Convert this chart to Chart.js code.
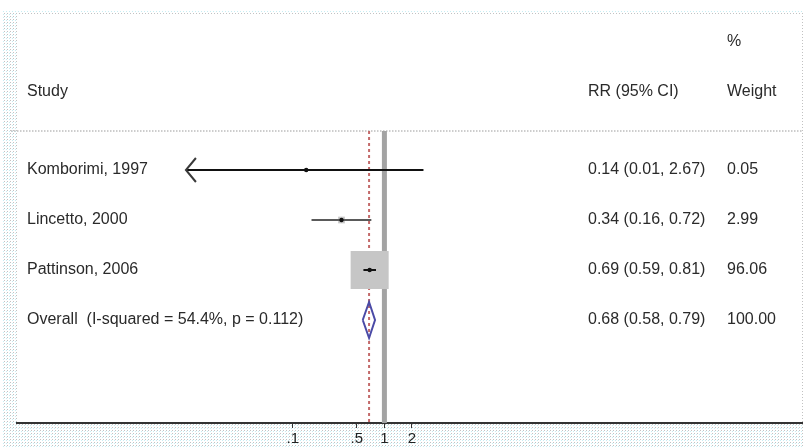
<!DOCTYPE html>
<html>
<head>
<meta charset="utf-8">
<script src="https://cdn.jsdelivr.net/npm/chart.js@4.4.1/dist/chart.umd.min.js"></script>
<style>
  html, body { margin: 0; padding: 0; background: #fff; }
</style>
</head>
<body>
<canvas id="forest" width="808" height="447"></canvas>
<script>
// Study rows of the forest plot
const studies = ['Komborimi, 1997', 'Lincetto, 2000', 'Pattinson, 2006'];
const rr = [0.14, 0.34, 0.69];
const ciLow = [0.0068, 0.16, 0.59];
const ciHigh = [2.67, 0.72, 0.81];
const weights = [0.05, 2.99, 96.06];

// Pooled estimate
const overallLabel = 'Overall  (I-squared = 54.4%, p = 0.112)';
const overallRR = 0.68;
const overallLow = 0.58;
const overallHigh = 0.79;
const overallWeight = 100.00;

// x axis ticks
const xTicks = [0.1, 0.5, 1, 2];
const xTickLabels = ['.1', '.5', '1', '2'];

const rows = studies.map((s, i) => i + 1);
const overallRow = studies.length + 1;

const FONT = '16px "Liberation Sans", Arial, sans-serif';
const TEXT = '#2a2a2a';

function fmt(v) { return v.toFixed(2); }

// dotted grey/cyan look of the outer graph region
function makePattern(ctx) {
  const c = document.createElement('canvas');
  c.width = 3; c.height = 3;
  const p = c.getContext('2d');
  p.fillStyle = '#fff';
  p.fillRect(0, 0, 3, 3);
  p.fillStyle = '#c2c2c2';
  p.fillRect(1, 1, 1, 1);
  p.fillStyle = '#c6eef4';
  p.fillRect(0, 2, 1, 1);
  return ctx.createPattern(c, 'repeat');
}

const backgroundPlugin = {
  id: 'background',
  beforeDraw(chart) {
    const { ctx, chartArea } = chart;
    ctx.save();
    ctx.fillStyle = '#fff';
    ctx.fillRect(0, 0, chart.width, chart.height);
    ctx.fillStyle = makePattern(ctx);
    ctx.fillRect(3, 11, 801, chart.height - 11);
    ctx.fillStyle = '#fff';
    ctx.fillRect(chartArea.left, chartArea.top, chartArea.right - chartArea.left, chartArea.bottom - chartArea.top);
    ctx.restore();
  }
};

// separator, null line and dashed pooled line
const refLinesPlugin = {
  id: 'refLines',
  beforeDatasetsDraw(chart) {
    const { ctx, chartArea, scales: { x, y } } = chart;
    const sepY = y.getPixelForValue(0.22);
    ctx.save();
    ctx.strokeStyle = '#bdbdbd';
    ctx.lineWidth = 1.5;
    ctx.setLineDash([1.5, 1.5]);
    ctx.beginPath();
    ctx.moveTo(chartArea.left - 6, sepY);
    ctx.lineTo(chartArea.right, sepY);
    ctx.stroke();

    const x1 = x.getPixelForValue(1);
    ctx.setLineDash([]);
    ctx.strokeStyle = '#a3a3a3';
    ctx.lineWidth = 5;
    ctx.beginPath();
    ctx.moveTo(x1, sepY);
    ctx.lineTo(x1, chartArea.bottom);
    ctx.stroke();

    const xo = x.getPixelForValue(overallRR);
    ctx.strokeStyle = '#c46a6a';
    ctx.lineWidth = 2;
    ctx.setLineDash([3, 3]);
    ctx.beginPath();
    ctx.moveTo(xo, sepY);
    ctx.lineTo(xo, chartArea.bottom);
    ctx.stroke();
    ctx.restore();
  }
};

// arrow head where a CI runs past the lowest tick
const arrowPlugin = {
  id: 'arrows',
  afterDatasetsDraw(chart) {
    const { ctx, scales: { x, y } } = chart;
    ctx.save();
    ctx.strokeStyle = '#3a3a3a';
    ctx.lineWidth = 2;
    ciLow.forEach((lo, i) => {
      if (lo >= xTicks[0]) return;
      const tx = x.getPixelForValue(lo);
      const ty = y.getPixelForValue(rows[i]);
      ctx.beginPath();
      ctx.moveTo(tx + 10, ty - 12);
      ctx.lineTo(tx, ty);
      ctx.lineTo(tx + 10, ty + 12);
      ctx.stroke();
    });
    ctx.restore();
  }
};

// the text columns
const textPlugin = {
  id: 'columns',
  afterDraw(chart) {
    const { ctx, scales: { y } } = chart;
    const colStudy = 27, colRR = 588, colW = 727;
    ctx.save();
    ctx.font = FONT;
    ctx.fillStyle = TEXT;
    ctx.textBaseline = 'middle';
    ctx.textAlign = 'left';
    ctx.fillText('%', colW, y.getPixelForValue(-1.56));
    const hy = y.getPixelForValue(-0.56);
    ctx.fillText('Study', colStudy, hy);
    ctx.fillText('RR (95% CI)', colRR, hy);
    ctx.fillText('Weight', colW, hy);
    studies.forEach((s, i) => {
      const ry = y.getPixelForValue(rows[i]);
      ctx.fillText(s, colStudy, ry);
      ctx.fillText(fmt(rr[i]) + ' (' + fmt(ciLow[i]) + ', ' + fmt(ciHigh[i]) + ')', colRR, ry);
      ctx.fillText(fmt(weights[i]), colW, ry);
    });
    const oy = y.getPixelForValue(overallRow);
    ctx.fillText(overallLabel, colStudy, oy);
    ctx.fillText(fmt(overallRR) + ' (' + fmt(overallLow) + ', ' + fmt(overallHigh) + ')', colRR, oy);
    ctx.fillText(fmt(overallWeight), colW, oy);
    ctx.restore();
  }
};

const ciDatasets = studies.map((s, i) => ({
  label: s + ' CI',
  data: [{ x: ciLow[i], y: rows[i] }, { x: ciHigh[i], y: rows[i] }],
  showLine: true,
  borderColor: i === 1 ? '#5a5a5a' : '#111',
  borderWidth: 2,
  pointRadius: 0,
  order: 2
}));

const boxScale = 26.9 / Math.sqrt(Math.max(...weights));

const diamondHalf = 0.36;

new Chart(document.getElementById('forest'), {
  type: 'scatter',
  data: {
    datasets: [
      {
        label: 'weight boxes',
        data: studies.map((s, i) => ({ x: rr[i], y: rows[i] })),
        pointStyle: 'rect',
        pointRadius: weights.map(w => boxScale * Math.sqrt(w)),
        backgroundColor: '#c6c6c6',
        borderWidth: 0,
        order: 3
      },
      ...ciDatasets,
      {
        label: 'estimates',
        data: studies.map((s, i) => ({ x: rr[i], y: rows[i] })),
        pointStyle: 'circle',
        pointRadius: 2.2,
        backgroundColor: '#111',
        borderWidth: 0,
        order: 1
      },
      {
        label: 'overall',
        data: [
          { x: overallLow, y: overallRow },
          { x: overallRR, y: overallRow - diamondHalf },
          { x: overallHigh, y: overallRow },
          { x: overallRR, y: overallRow + diamondHalf },
          { x: overallLow, y: overallRow }
        ],
        showLine: true,
        borderColor: '#4a4aa6',
        borderWidth: 2,
        pointRadius: 0,
        fill: false,
        order: 0
      }
    ]
  },
  options: {
    responsive: false,
    animation: false,
    events: [],
    layout: { autoPadding: false, padding: { left: 17, right: 6, top: 14, bottom: 0 } },
    plugins: { legend: { display: false }, tooltip: { enabled: false } },
    scales: {
      x: {
        type: 'logarithmic',
        bounds: 'data',
        min: Math.pow(10, -4.012),
        max: Math.pow(10, 4.56),
        afterBuildTicks: axis => { axis.ticks = xTicks.map(v => ({ value: v })); },
        afterFit: axis => { axis.height = 24; },
        grid: { drawOnChartArea: false, drawTicks: true, tickLength: 5, color: '#333', tickWidth: 1 },
        border: { display: true, color: '#333', width: 2 },
        ticks: {
          autoSkip: false,
          maxRotation: 0,
          padding: 2,
          color: '#222',
          font: { family: '"Liberation Sans", Arial, sans-serif', size: 15 },
          callback: (v, i) => xTickLabels[i]
        }
      },
      y: {
        type: 'linear',
        display: false,
        reverse: true,
        min: -2.12,
        max: 6.06
      }
    }
  },
  plugins: [backgroundPlugin, refLinesPlugin, arrowPlugin, textPlugin]
});
</script>
</body>
</html>
